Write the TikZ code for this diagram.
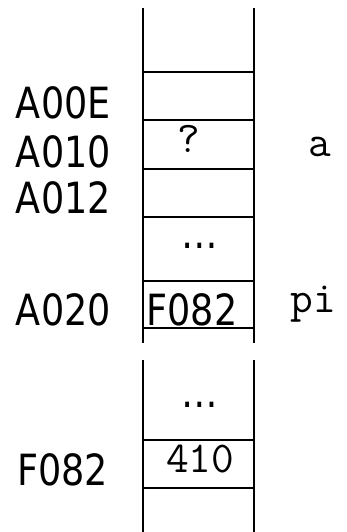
\documentclass[tikz,border=0pt]{standalone}
\usepackage{fontspec}
\newfontfamily\addrfont[FakeStretch=0.85]{DejaVu Sans}
\usetikzlibrary{positioning}

\begin{document}
\begin{tikzpicture}[x=1pt,y=-1pt,
  every node/.style={inner sep=0pt,outer sep=0pt},
  addr/.style={font=\addrfont\fontsize{43}{43}\selectfont,anchor=base west},
  cell/.style={font=\addrfont\fontsize{43}{43}\selectfont,anchor=base},
  code/.style={font=\ttfamily\fontsize{44}{44}\selectfont,anchor=base},
  rail/.style={line width=1.6pt},
  sep/.style={line width=1.1pt}]
  \useasboundingbox (0,0) rectangle (347,532);
  % memory column
  \draw[rail] (143,8) -- (143,343) (254,8) -- (254,343);
  \draw[rail] (143,360) -- (143,532) (254,360) -- (254,532);
  \foreach \y in {72,120,169,217,281,328,440,488}
    \draw[sep] (143,\y) -- (254,\y);
  % addresses
  \node[addr] (adrE) at (16,118) {A00E};
  \node[addr] (adrA) at (16,167) {A010};
  \node[addr] (adrB) at (16,213) {A012};
  \node[addr] (adrP) at (16,325) {A020};
  \node[addr] (adrF) at (17,485) {F082};
  % contents
  \node[code] (valA) at (189,152) {?};
  \node[cell] (gapA) at (200,248) {…};
  \node[cell] (valP) at (192,325) {F082};
  \node[cell] (gapB) at (200,407) {…};
  \node[code] (valF) at (200,472) {410};
  % variable names
  \node[code] (nameA) at (320,156) {a};
  \node[code] (nameP) at (313,312) {pi};
\end{tikzpicture}
\end{document}
